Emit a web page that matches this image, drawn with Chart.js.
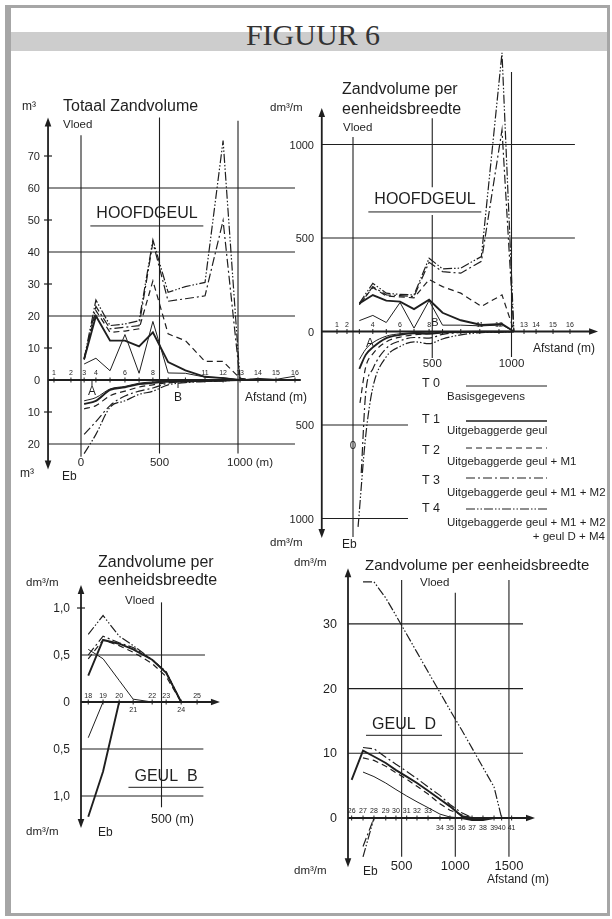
<!DOCTYPE html>
<html><head><meta charset="utf-8">
<script src="https://cdn.jsdelivr.net/npm/chart.js@4.4.1/dist/chart.umd.min.js"></script>
<style>
html,body{margin:0;padding:0;background:#fff;}
#page{position:relative;width:612px;height:919px;overflow:hidden;background:#fff;font-family:"Liberation Sans",Arial,sans-serif;color:#1f1f1f;}
.frame{position:absolute;left:5px;top:5px;width:605px;height:911px;box-sizing:border-box;border-style:solid;border-color:#a6a6a6;border-width:3px 3px 3px 6px;}
.band{position:absolute;left:11px;top:32px;width:596px;height:19px;background:#cdcdcd;}
.t{position:absolute;white-space:nowrap;line-height:1;}
canvas,svg{position:absolute;}
</style></head>
<body><div id="page">
<div class="frame"></div><div class="band"></div>
</div>
<script>
// ---------------- DATA ----------------
// Panel 1: Totaal Zandvolume (m3), HOOFDGEUL
const p1SecX = [-172,-64,20,95,185,280,370,458,555,665,790,905,1013,1127,1242,1363];
const p1SecLabels = ['1','2','3','4','','6','','8','','','11','12','13','14','15','16'];
const p1YTicks = [70,60,50,40,30,20,10,0,-10,-20];
const p1XTicks = [0,500,1000];
const p1X = [20,95,185,280,370,458,555,665,790,905,1013,1127,1242,1363];
const p1VloedT0 = [5,6.8,2.9,14.2,2.1,18.3,2.2,2.1,0.9,0.7,0,0.5,0.2,1.2];
const p1VloedT1 = [6.6,20,12.3,12.3,10.5,14.9,5.6,3,1,0.6,0,0,0,0];
const p1VloedT2 = [6.3,21.7,14.9,15.3,16,31,14.4,12.3,5.8,5.8,0.5,0,0,0];
const p1VloedT3 = [6.5,23,16,16.5,17,43,24.6,25.4,26.3,49.8,0,0,0,0];
const p1VloedT4 = [6.6,25,17,17.5,18.5,43.8,27.4,29.2,30.5,74.8,0,0,0,0];
const p1EbT0 = [-6.5,-5.5,-2.8,-2,-1,-0.6,-0.3,-0.2,-0.2,-0.1,0,0,0,0];
const p1EbT1 = [-7.5,-6.5,-3.1,-2.3,-1.3,-0.9,-0.5,-0.3,-0.3,-0.2,0,0,0,0];
const p1EbT2 = [-9,-8,-4.9,-3.5,-2.2,-1.5,-0.8,-0.5,-0.3,-0.2,0,0,0,0];
const p1EbT3 = [-17,-13,-8,-5,-3.5,-2.5,-1,-0.6,-0.4,-0.2,0,0,0,0];
const p1EbT4 = [-23,-17,-8.5,-6.5,-4.5,-3.5,-1.5,-0.8,-0.5,-0.3,0,0,0,0];

// Panel 2: Zandvolume per eenheidsbreedte (dm3/m), HOOFDGEUL
const p2SecX = [-101,-38,40,125,210,297,385,480,565,680,800,921,1079,1155,1262,1369];
const p2SecLabels = ['1','2','','4','','6','','8','','','11','12','13','14','15','16'];
const p2YTicks = [1000,500,0,-500,-1000];
const p2XTicks = [500,1000];
const p2X = [40,125,210,297,385,480,565,680,810,940,1015];
const p2VloedT0 = [58,86,48,155,18,165,34,34,30,35,0];
const p2VloedT1 = [150,195,165,160,120,170,100,60,35,40,0];
const p2VloedT2 = [145,235,190,185,180,278,240,205,134,196,5];
const p2VloedT3 = [143,240,196,192,187,370,320,312,375,1078,0];
const p2VloedT4 = [151,258,205,198,196,392,335,339,401,1490,0];
const p2EbStartX = [40,40,44,52,32];
const p2EbStartY = [-150,-200,-382,-757,-1045];
const p2EbX = [80,125,210,297,385,480,565,680,810,940,1015];
const p2EbT0 = [-95,-60,-25,-12,-6,-3,-2,-1,-1,0,0];
const p2EbT1 = [-125,-85,-35,-18,-10,-12,-5,-2,-1,-1,0];
const p2EbT2 = [-190,-120,-55,-30,-18,-10,-5,-3,-2,-1,0];
const p2EbT3 = [-330,-200,-90,-50,-32,-35,-15,-6,-3,-2,0];
const p2EbT4 = [-560,-300,-135,-80,-55,-65,-40,-18,-6,-3,0];

// Panel 3: GEUL B (dm3/m)
const p3SecX = [45,137,237,324,442,529,622,721];
const p3SecLabels = ['18','19','20','21','22','23','24','25'];
const p3SecBelow = ['21','24'];
const p3YTicks = [1,0.5,0,-0.5,-1];
const p3VloedT0 = [0.56,0.46,0.23,0.03,0,null,null,null];
const p3VloedT1 = [0.28,0.66,0.62,0.56,0.45,0.31,0,null];
const p3VloedT2 = [0.46,0.66,0.6,0.53,0.41,0.27,0,null];
const p3VloedT3 = [0.5,0.7,0.63,0.58,0.45,0.32,0,null];
const p3VloedT4 = [0.72,0.92,0.7,0.6,0.45,0.32,0,null];
const p3EbT0 = [-0.38,0,null,null,null,null,null,null];
const p3EbT1 = [-1.22,-0.74,0,null,null,null,null,null];

// Panel 4: GEUL D (dm3/m)
const p4SecX = [34,140,242,352,447,547,643,746,857,950,1060,1156,1258,1361,1432,1525];
const p4SecLabels = ['26','27','28','29','30','31','32','33','34','35','36','37','38','39','40','41'];
const p4YTicks = [30,20,10,0];
const p4XTicks = [500,1000,1500];
const p4VloedT0 = [null,7.1,6.4,5.4,4.4,3.4,2.5,1.6,0.6,0.15,0,null,null,null,null,null];
const p4VloedT1 = [5.9,10.4,9.5,8.5,7.4,6.4,5.4,4.2,2.9,1.8,0.3,0,null,null,null,null];
const p4VloedT2 = [null,9.3,8.9,8.0,7.0,6.0,4.9,3.7,2.2,1.2,0.5,0,null,null,null,null];
const p4VloedT3 = [null,10.9,10.7,9.4,8.3,7.2,6.1,4.8,3.5,2.1,0.8,0.05,null,null,null,null];
const p4VloedT4 = [null,36.5,36.5,34.0,31.3,28.4,25.6,22.6,19.4,16.7,13.6,10.8,7.8,4.8,0,null];
const p4EbT1 = [null,null,null,null,null,null,null,null,null,null,0,-0.3,-0.3,0,null,null];
const p4EbT3 = [null,-4.4,0,null,null,null,null,null,null,null,null,null,null,null,null,null];
const p4EbT4 = [null,-6.0,0,null,null,null,null,null,null,null,null,null,null,null,null,null];

// Legend
const legendKeys = ['T 0','T 1','T 2','T 3','T 4'];
const legendTexts = ['Basisgegevens','Uitgebaggerde geul','Uitgebaggerde geul + M1','Uitgebaggerde geul + M1 + M2','Uitgebaggerde geul + M1 + M2'];
const legendExtra = '+ geul D + M4';

// ---------------- RENDER ----------------
const INK = '#1f1f1f';
const page = document.getElementById('page');
const STY = {
  T0:{w:1,d:[]}, T1:{w:1.9,d:[]}, T2:{w:1.2,d:[6,4]},
  T3:{w:1.2,d:[9,3,2,3]}, T4:{w:1.2,d:[9,2,1.5,2,1.5,2]}
};
function ser(xs, ys, key, smooth){
  const data = xs.map((x,i)=>({x, y: ys[i]})).filter(p=>p.y!==null && p.y!==undefined);
  const d = {data, borderColor:INK, borderWidth:STY[key].w, borderDash:STY[key].d, pointRadius:0, fill:false, tension:0};
  if (smooth){ d.cubicInterpolationMode='monotone'; d.tension=0.4; }
  return d;
}
function tri(ctx,x,y,dir){
  const L=9,W=3.3; ctx.beginPath();
  if(dir==='up'){ctx.moveTo(x,y);ctx.lineTo(x-W,y+L);ctx.lineTo(x+W,y+L);}
  else if(dir==='down'){ctx.moveTo(x,y);ctx.lineTo(x-W,y-L);ctx.lineTo(x+W,y-L);}
  else {ctx.moveTo(x,y);ctx.lineTo(x-L,y-W);ctx.lineTo(x-L,y+W);}
  ctx.closePath(); ctx.fill();
}
const decoPlugin = {
  id:'deco',
  beforeDatasetsDraw(chart, args, o){
    const ctx=chart.ctx, xs=chart.scales.x, ys=chart.scales.y;
    const X=v=>xs.getPixelForValue(v), Y=v=>ys.getPixelForValue(v);
    ctx.save(); ctx.strokeStyle=INK; ctx.fillStyle=INK; ctx.setLineDash([]);
    const seg=(a,b,c,d,w)=>{ctx.lineWidth=w;ctx.beginPath();ctx.moveTo(a,b);ctx.lineTo(c,d);ctx.stroke();};
    (o.h||[]).forEach(([v,a,b])=>seg(X(a),Y(v),X(b),Y(v),1.1));
    (o.v||[]).forEach(([v,a,b])=>seg(X(v),Y(a),X(v),Y(b),1.1));
    const ax=X(o.ax);
    seg(ax,Y(o.yTop)+6,ax,Y(o.yBot)-6,1.8);
    tri(ctx,ax,Y(o.yTop),'up'); tri(ctx,ax,Y(o.yBot),'down');
    if(o.xArrow){ seg(ax,Y(0),X(o.xEnd)-6,Y(0),1.8); tri(ctx,X(o.xEnd),Y(0),'right'); }
    else seg(ax,Y(0),X(o.xEnd),Y(0),1.8);
    (o.sec||[]).forEach(s=>seg(X(s),Y(0)-2.5,X(s),Y(0)+2.5,1));
    (o.yMinor||[]).forEach(v=>seg(ax-4,Y(v),ax+4,Y(v),1.2));
    (o.marks||[]).forEach(([x,len])=>seg(X(x),Y(0),X(x),Y(0)+len,1));
    ctx.restore();
  }
};
function makePanel(box, map, deco, datasets){
  const cv=document.createElement('canvas');
  cv.width=box.w; cv.height=box.h;
  cv.style.left=box.l+'px'; cv.style.top=box.t+'px'; cv.style.width=box.w+'px'; cv.style.height=box.h+'px';
  page.appendChild(cv);
  const xmin=(box.l-map.x0)/map.kx, xmax=(box.l+box.w-map.x0)/map.kx;
  const ymax=(map.y0-box.t)/map.ky, ymin=(map.y0-box.t-box.h)/map.ky;
  const ch=new Chart(cv.getContext('2d'),{
    type:'line', data:{datasets},
    options:{responsive:false, animation:false, events:[], layout:{padding:0},
      plugins:{legend:{display:false}, tooltip:{enabled:false}, deco},
      scales:{x:{type:'linear',min:xmin,max:xmax,display:false}, y:{type:'linear',min:ymin,max:ymax,display:false}},
      elements:{point:{radius:0}}},
    plugins:[decoPlugin]
  });
  ch._box=box; return ch;
}
const PX=(c,v)=>c._box.l+c.scales.x.getPixelForValue(v);
const PY=(c,v)=>c._box.t+c.scales.y.getPixelForValue(v);
function T(s,x,y,size,align,extra){
  const d=document.createElement('div'); d.className='t'; d.textContent=s;
  d.style.left=x+'px'; d.style.top=y+'px'; d.style.fontSize=size+'px';
  const tx=align==='c'?'-50%':align==='r'?'-100%':'0';
  d.style.transform='translate('+tx+',-50%)';
  if(extra) Object.assign(d.style,extra);
  page.appendChild(d); return d;
}
const fmtAbs = v=>String(Math.abs(v));
const fmtComma = v=>Math.abs(v)===0?'0':Math.abs(v).toFixed(1).replace('.',',');

// Title
T('FIGUUR 6',313,35,30,'c',{fontFamily:'"Liberation Serif","Times New Roman",serif',color:'#333'});

// ---- Panel 1 ----
const c1 = makePanel({l:15,t:100,w:295,h:385},{x0:81,kx:0.157,y0:380,ky:3.2},
 {h:[[60,-210,1363],[40,-210,1363],[20,-210,1363],[-20,-210,1363]],
  v:[[0,76.5,-24],[500,82,-23],[1000,81,-23]],
  ax:-210,yTop:82,yBot:-28,xEnd:1400,xArrow:false,sec:p1SecX,yMinor:[70,50,30,10,-10],marks:[[70,6],[618,8]]},
 [ser(p1X,p1VloedT0,'T0'),ser(p1X,p1VloedT1,'T1'),ser(p1X,p1VloedT2,'T2'),ser(p1X,p1VloedT3,'T3'),ser(p1X,p1VloedT4,'T4'),
  ser(p1X,p1EbT0,'T0',true),ser(p1X,p1EbT1,'T1',true),ser(p1X,p1EbT2,'T2',true),ser(p1X,p1EbT3,'T3',true),ser(p1X,p1EbT4,'T4',true)]);
p1YTicks.forEach(v=>T(fmtAbs(v),40,PY(c1,v),11,'r'));
T('0',PX(c1,0),463,11.5,'c'); T('500',PX(c1,500),463,11.5,'c'); T('1000 (m)',PX(c1,1000)-11,463,11.5,'l');
p1SecX.forEach((x,i)=>{ if(p1SecLabels[i]) T(p1SecLabels[i],PX(c1,x),PY(c1,0)-8,7,'c'); });
T('m³',22,106,12,'l'); T('Totaal Zandvolume',63,106,16,'l'); T('Vloed',63,125,11.5,'l');
T('m³',20,473,12,'l'); T('Eb',62,476,12,'l');
T('HOOFDGEUL',147,213,16,'c',{borderBottom:'1.3px solid #1f1f1f',padding:'0 6px 4px 6px',transform:'translate(-50%,-36%)'});
T('A',PX(c1,70),391,12,'c'); T('B',PX(c1,618),397,12,'c');
T('Afstand (m)',245,397,12,'l');

// ---- Panel 2 ----
const c2 = makePanel({l:300,t:40,w:305,h:510},{x0:353,kx:0.1585,y0:331.5,ky:0.187},
 {h:[[1000,-197,1400],[500,-197,1400],[-500,-197,347],[-1000,-197,347]],
  v:[[0,1040,-1099],[500,1141,772],[500,623,-142],[1000,1388,-136]],
  ax:-197,yTop:1195,yBot:-1104,xEnd:1546,xArrow:true,sec:p2SecX},
 [ser(p2X,p2VloedT0,'T0'),ser(p2X,p2VloedT1,'T1'),ser(p2X,p2VloedT2,'T2'),ser(p2X,p2VloedT3,'T3'),ser(p2X,p2VloedT4,'T4'),
  ser([p2EbStartX[0],...p2EbX],[p2EbStartY[0],...p2EbT0],'T0',true),
  ser([p2EbStartX[1],...p2EbX],[p2EbStartY[1],...p2EbT1],'T1',true),
  ser([p2EbStartX[2],...p2EbX],[p2EbStartY[2],...p2EbT2],'T2',true),
  ser([p2EbStartX[3],...p2EbX],[p2EbStartY[3],...p2EbT3],'T3',true),
  ser([p2EbStartX[4],...p2EbX],[p2EbStartY[4],...p2EbT4],'T4',true)]);
p2YTicks.forEach(v=>T(fmtAbs(v),314,PY(c2,v),11,'r'));
p2XTicks.forEach(v=>T(String(v),PX(c2,v),364,11.5,'c'));
T('0',PX(c2,0),446,11.5,'c');
p2SecX.forEach((x,i)=>{ if(p2SecLabels[i]) T(p2SecLabels[i],PX(c2,x),PY(c2,0)-8,7,'c'); });
T('dm³/m',270,108,11.5,'l'); T('dm³/m',270,543,11.5,'l');
T('Zandvolume per',342,89,16,'l'); T('eenheidsbreedte',342,109,16,'l'); T('Vloed',343,128,11.5,'l');
T('Eb',342,544,12,'l');
T('HOOFDGEUL',425,199,16,'c',{borderBottom:'1.3px solid #1f1f1f',padding:'0 6px 4px 6px',transform:'translate(-50%,-36%)'});
T('A',370,343,12,'c'); T('B',435,322,11,'c');
T('Afstand (m)',533,348,12,'l');

// Legend
(function(){
  const ys=[386,421,448,478,509], ty=[397,431,462,493,523], ky=[383,419,450,480,508];
  const dash=['','','6 4','9 3 2 3','9 2 1.5 2 1.5 2'], w=[1,1.6,1.2,1.2,1.2];
  let s='<svg width="612" height="919" style="left:0;top:0">';
  ys.forEach((y,i)=>{ s+='<line x1="466" y1="'+y+'" x2="547" y2="'+y+'" stroke="'+INK+'" stroke-width="'+w[i]+'"'+(dash[i]?' stroke-dasharray="'+dash[i]+'"':'')+'/>'; });
  s+='</svg>';
  page.insertAdjacentHTML('beforeend',s);
  legendKeys.forEach((k,i)=>T(k,422,ky[i],12.5,'l'));
  legendTexts.forEach((k,i)=>T(k,447,ty[i],11.5,'l'));
  T(legendExtra,605,537,11.5,'r');
})();

// ---- Panel 3 ----
const c3 = makePanel({l:20,t:575,w:215,h:265},{x0:81,kx:0.161,y0:702,ky:94},
 {h:[[0.5,0,770],[-0.5,0,760],[-1,0,760]], v:[[500,1.06,-1.12]],
  ax:0,yTop:1.245,yBot:-1.34,xEnd:863,xArrow:true,sec:p3SecX,yMinor:[1]},
 [ser(p3SecX,p3VloedT0,'T0'),ser(p3SecX,p3VloedT1,'T1'),ser(p3SecX,p3VloedT2,'T2'),ser(p3SecX,p3VloedT3,'T3'),ser(p3SecX,p3VloedT4,'T4'),
  ser(p3SecX,p3EbT0,'T0'),ser(p3SecX,p3EbT1,'T1')]);
p3YTicks.forEach(v=>T(fmtComma(v),70,PY(c3,v),12,'r'));
p3SecX.forEach((x,i)=>{ const b=p3SecBelow.includes(p3SecLabels[i]); T(p3SecLabels[i],PX(c3,x),PY(c3,0)+(b?7:-7),7,'c'); });
T('dm³/m',26,583,11.5,'l'); T('dm³/m',26,832,11.5,'l');
T('Zandvolume per',98,562,16,'l'); T('eenheidsbreedte',98,580,16,'l'); T('Vloed',125,601,11.5,'l');
T('Eb',98,832,12,'l');
T('GEUL B',166,775,16,'c',{wordSpacing:'5px',borderBottom:'1.3px solid #1f1f1f',padding:'0 6px 3px 6px',transform:'translate(-50%,-36%)'});
T('500 (m)',PX(c3,500)+11,819,12.5,'c');

// ---- Panel 4 ----
const c4 = makePanel({l:290,t:555,w:260,h:320},{x0:348,kx:0.1073,y0:818,ky:6.47},
 {h:[[30,0,1631],[20,0,1631],[10,0,1631]], v:[[500,36.8,-6],[1000,34.8,-6],[1500,36.8,-6]],
  ax:0,yTop:38.6,yBot:-7.6,xEnd:1743,xArrow:true,sec:p4SecX},
 [ser(p4SecX,p4VloedT0,'T0'),ser(p4SecX,p4VloedT1,'T1'),ser(p4SecX,p4VloedT2,'T2'),ser(p4SecX,p4VloedT3,'T3'),ser(p4SecX,p4VloedT4,'T4'),
  ser(p4SecX,p4EbT1,'T1'),ser(p4SecX,p4EbT3,'T3'),ser(p4SecX,p4EbT4,'T4')]);
p4YTicks.forEach(v=>T(String(v),337,PY(c4,v),12.5,'r'));
p4XTicks.forEach(v=>T(String(v),PX(c4,v),865,13,'c'));
p4SecX.forEach((x,i)=>{ const b=i>=8; T(p4SecLabels[i],PX(c4,x),PY(c4,0)+(b?9:-8),7,'c'); });
T('dm³/m',294,563,11.5,'l'); T('dm³/m',294,871,11.5,'l');
T('Zandvolume per eenheidsbreedte',365,564,15,'l'); T('Vloed',420,583,11.5,'l');
T('Eb',363,871,12,'l');
T('GEUL D',404,723,16,'c',{wordSpacing:'5px',borderBottom:'1.3px solid #1f1f1f',padding:'0 6px 3px 6px',transform:'translate(-50%,-36%)'});
T('Afstand (m)',487,879,12,'l');
</script>
</body></html>
